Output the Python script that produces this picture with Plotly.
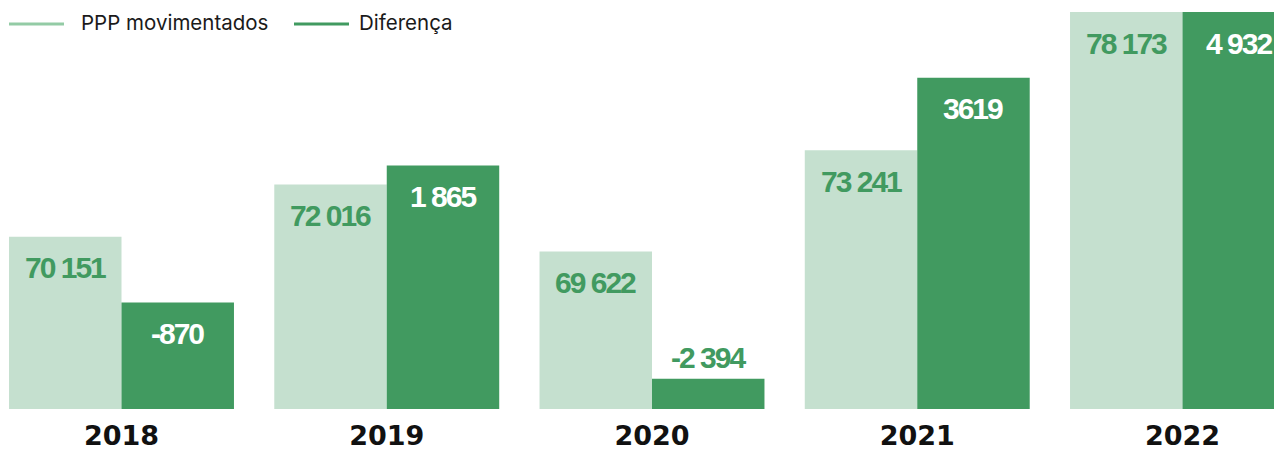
import plotly.graph_objects as go

years = ["2018", "2019", "2020", "2021", "2022"]
ppp_movimentados = [70151, 72016, 69622, 73241, 78173]
diferenca = [-870, 1865, -2394, 3619, 4932]
ppp_labels = ["70 151", "72 016", "69 622", "73 241", "78 173"]
dif_labels = ["-870", "1 865", "-2 394", "3619", "4 932"]

LIGHT = "#c5e0cf"
DARK = "#419a60"
LEGEND_LIGHT = "#93cba5"
P0, P1 = 64000, 78173
D0, D1 = -3000, 4932
BW = 0.424
PLOT_H = 397

# page has an 8px body margin; figure sized to fit the 1282x452 window
OFF = 8
FIG_W, FIG_H = 1282 - OFF, 452 - OFF
MT = 12 - OFF
MB = FIG_H - (409 - OFF)
STEP = 265.25
X0 = -(121.5 - OFF) / STEP
X1 = X0 + FIG_W / STEP

fig = go.Figure()
fig.add_trace(go.Bar(
    x=years, y=[v - P0 for v in ppp_movimentados], base=P0,
    width=BW, offset=-BW, marker=dict(color=LIGHT, line=dict(width=0)),
    name="PPP movimentados", yaxis="y", showlegend=False,
))
fig.add_trace(go.Bar(
    x=years, y=[v - D0 for v in diferenca], base=D0,
    width=BW, offset=0, marker=dict(color=DARK, line=dict(width=0)),
    name="Diferença", yaxis="y2", showlegend=False,
))

num_font = "Liberation Sans, Arial, sans-serif"
def lbl(t):
    return '<span style="letter-spacing:-2px">' + t + '</span>'

annotations = []
for i, (v, t) in enumerate(zip(ppp_movimentados, ppp_labels)):
    annotations.append(dict(
        x=i - BW / 2, y=v, xref="x", yref="y", text=lbl(t), showarrow=False,
        yanchor="middle", yshift=-31,
        font=dict(family=num_font, size=30, color=DARK, weight="bold"),
    ))
for i, (v, t) in enumerate(zip(diferenca, dif_labels)):
    h = (v - D0) / (D1 - D0) * PLOT_H
    inside = h > 60
    annotations.append(dict(
        x=i + BW / 2, y=v, xref="x", yref="y2", text=lbl(t), showarrow=False,
        yanchor="middle", yshift=-31 if inside else 21,
        font=dict(family=num_font, size=30, color="white" if inside else DARK, weight="bold"),
    ))

# legend (manual), coordinates given in page pixels
def px(pix):
    return (pix - OFF) / FIG_W

def py(pix):
    return (409 - pix) / PLOT_H

shapes = [
    dict(type="line", xref="paper", yref="paper", x0=px(9), x1=px(64), y0=py(24), y1=py(24),
         line=dict(color=LEGEND_LIGHT, width=3)),
    dict(type="line", xref="paper", yref="paper", x0=px(294), x1=px(349), y0=py(24), y1=py(24),
         line=dict(color=DARK, width=3)),
]
leg_font = dict(family="Inter, Roboto, sans-serif", size=20.5, color="#1a1a1a")
annotations.append(dict(x=px(79), y=py(23), xref="paper", yref="paper", text="PPP movimentados",
                        showarrow=False, xanchor="left", yanchor="middle", font=leg_font))
annotations.append(dict(x=px(357), y=py(23), xref="paper", yref="paper", text="Diferença",
                        showarrow=False, xanchor="left", yanchor="middle", font=leg_font))

fig.update_layout(
    width=FIG_W, height=FIG_H,
    margin=dict(l=0, r=0, t=MT, b=MB, pad=0, autoexpand=False),
    paper_bgcolor="white", plot_bgcolor="white",
    barmode="overlay",
    showlegend=False,
    xaxis=dict(type="category", range=[X0, X1], showgrid=False, showline=False,
               zeroline=False, ticks="", ticklabelstandoff=8, automargin=False,
               tickfont=dict(family="DejaVu Sans, sans-serif", size=27, color="#111111", weight="bold")),
    yaxis=dict(range=[P0, P1], visible=False, showgrid=False, zeroline=False, automargin=False),
    yaxis2=dict(range=[D0, D1], visible=False, showgrid=False, zeroline=False,
                overlaying="y", side="right", automargin=False),
    annotations=annotations,
    shapes=shapes,
)

fig.write_html("out.html")
